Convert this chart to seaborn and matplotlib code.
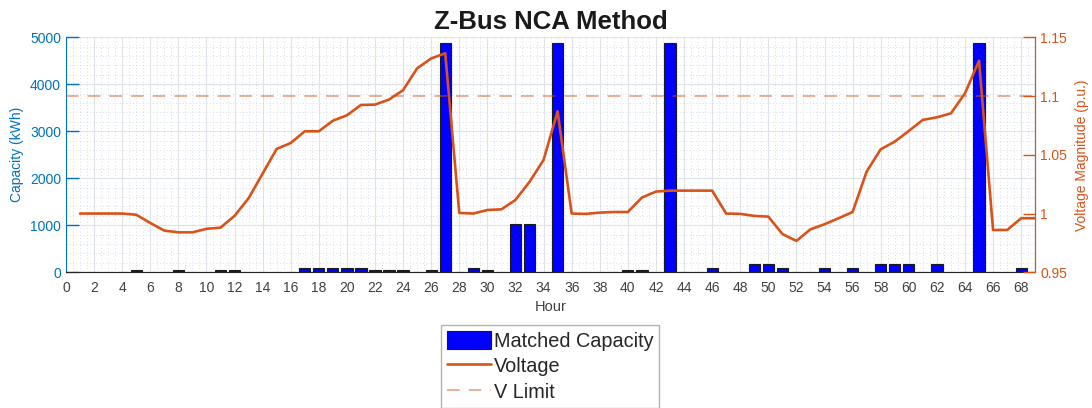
import numpy as np
import matplotlib
matplotlib.use("Agg")
import matplotlib.pyplot as plt
from matplotlib.ticker import MultipleLocator
import seaborn as sns

# Data
hours = list(range(1, 70))

capacity = [0, 0, 0, 0, 45, 0, 0, 45, 0, 0,
            45, 45, 0, 0, 0, 0, 90, 90, 90, 90,
            90, 45, 45, 45, 0, 45, 4880, 0, 90, 45,
            0, 1025, 1025, 0, 4880, 0, 0, 0, 0, 45,
            45, 0, 4880, 0, 0, 90, 0, 0, 175, 175,
            90, 0, 0, 90, 0, 90, 0, 175, 175, 175,
            0, 175, 0, 0, 4880, 0, 0, 90, 0]

voltage = [1.000, 1.000, 1.000, 1.000, 0.999, 0.992, 0.9855, 0.984, 0.984, 0.987,
           0.988, 0.998, 1.013, 1.034, 1.055, 1.060, 1.070, 1.070, 1.079, 1.0836,
           1.0924, 1.0927, 1.097, 1.105, 1.1236, 1.132, 1.1364, 1.0005, 1.000, 1.003,
           1.0036, 1.0116, 1.027, 1.0456, 1.087, 1.000, 0.9997, 1.0008, 1.0013, 1.0013,
           1.0136, 1.0187, 1.0195, 1.0195, 1.0195, 1.0195, 1.000, 0.9997, 0.998, 0.9974,
           0.9826, 0.9767, 0.9866, 0.9909, 0.996, 1.0013, 1.0357, 1.0547, 1.0612, 1.0703,
           1.0797, 1.0819, 1.0853, 1.1023, 1.130, 0.986, 0.986, 0.996, 0.996]

v_limit = 1.1

blue_axis = "#0072BD"
orange = "#D95319"
gray_txt = "#404040"

sns.set_style("white")
plt.rcParams["font.family"] = ["Liberation Sans", "DejaVu Sans"]

fig = plt.figure(figsize=(10.92, 4.08), dpi=100)
ax = fig.add_axes([0.0604, 0.3326, 0.8876, 0.576])

# bars
sns.barplot(x=hours, y=capacity, native_scale=True, width=0.8, color="#0000FF",
            saturation=1, edgecolor="#1a1a1a", linewidth=0.8, errorbar=None, ax=ax)

ax.set_xlim(0, 69)
ax.set_ylim(0, 5000)
ax.xaxis.set_major_locator(MultipleLocator(2))
ax.xaxis.set_minor_locator(MultipleLocator(0.5))
ax.yaxis.set_major_locator(MultipleLocator(1000))
ax.yaxis.set_minor_locator(MultipleLocator(200))
ax.set_axisbelow(True)
ax.grid(which="major", color="#dfe3e8", linewidth=0.8)
ax.grid(which="minor", color="#c4d3e2", linewidth=0.6, linestyle=(0, (1, 3)))

ax.tick_params(axis="x", which="major", direction="in", length=9, width=1,
               color="#262626", labelcolor=gray_txt, labelsize=10, pad=6)
ax.tick_params(axis="y", which="major", direction="in", length=9, width=1,
               color=blue_axis, labelcolor=blue_axis, labelsize=10)
ax.tick_params(which="minor", length=0)
ax.set_xlabel("Hour", color=gray_txt, fontsize=10.5)
ax.set_ylabel("Capacity (kWh)", color=blue_axis, fontsize=10, labelpad=4)

ax.spines["top"].set_visible(False)
ax.spines["left"].set_color(blue_axis)
ax.spines["bottom"].set_color("#262626")

# voltage on right axis
ax2 = ax.twinx()
sns.lineplot(x=hours, y=voltage, color=orange, linewidth=1.9, ax=ax2)
lim_line = ax2.axhline(v_limit, color=orange, alpha=0.5, linewidth=1.3,
                       linestyle=(0, (7, 5)))
ax2.set_ylim(0.95, 1.15)
ax2.set_yticks([0.95, 1.0, 1.05, 1.1, 1.15])
ax2.set_yticklabels(["0.95", "1", "1.05", "1.1", "1.15"])
ax2.tick_params(axis="y", direction="in", length=9, width=1,
                color=orange, labelcolor=orange, labelsize=10)
ax2.set_ylabel("Voltage Magnitude (p.u.)", color=orange, fontsize=10, labelpad=6)
for side in ["top", "left", "bottom"]:
    ax2.spines[side].set_visible(False)
ax2.spines["right"].set_color(orange)

ax.set_title("Z-Bus NCA Method", fontsize=18.5, fontweight="bold", color="#1a1a1a", pad=6)

handles = [ax.containers[0].patches[0], ax2.lines[0], lim_line]
labels = ["Matched Capacity", "Voltage", "V Limit"]
leg = fig.legend(handles, labels, loc="upper center", bbox_to_anchor=(0.504, 0.2034),
                 fontsize=14.3, frameon=True, fancybox=False, edgecolor="#a0a0a0",
                 handlelength=2.2, handleheight=1.0, labelspacing=0.3,
                 handletextpad=0.15, borderpad=0.3, borderaxespad=0)
leg.get_frame().set_linewidth(1.0)

fig.savefig("out.png", dpi=100)
